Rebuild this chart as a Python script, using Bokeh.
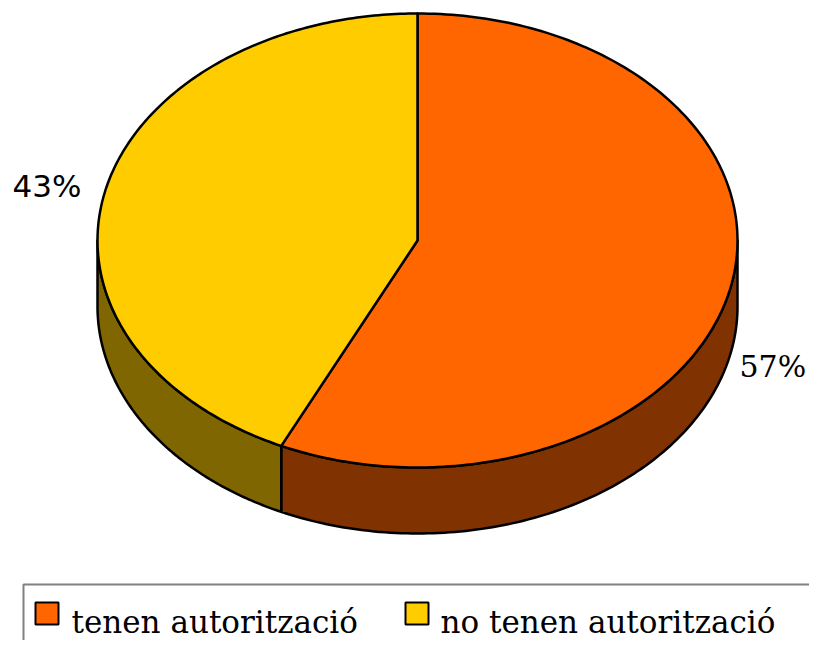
import numpy as np
from bokeh.plotting import figure
from bokeh.models import Range1d
from bokeh.core.properties import value
from bokeh.embed import file_html
from bokeh.resources import INLINE

# ---- data ----
categories = ["tenen autorització", "no tenen autorització"]
values = [57, 43]
top_colors = ["#FF6600", "#FFCC00"]
side_colors = ["#803300", "#806600"]
pct_labels = ["57%", "43%"]

# ---- layout (pixel coordinates of the picture) ----
W, H = 809, 640
cx, cy, rx, ry, depth = 417.0, 240.0, 320.0, 227.0, 66.0

p = figure(width=W, height=H, output_backend="svg", toolbar_location=None,
           x_range=Range1d(0, W), y_range=Range1d(H, 0),
           min_border=0)
p.axis.visible = False
p.grid.visible = False
p.outline_line_color = None
p.background_fill_color = "white"


def pt(theta_deg, dy=0.0):
    t = np.radians(theta_deg)
    return cx + rx * np.sin(t), cy - ry * np.cos(t) + dy


total = float(sum(values))
bounds = np.concatenate([[0.0], np.cumsum(values) / total * 360.0])

# sides (front half only: 90..270 deg clockwise from top)
for i in range(len(values)):
    a0, a1 = max(bounds[i], 90.0), min(bounds[i + 1], 270.0)
    if a1 <= a0:
        continue
    th = np.linspace(a0, a1, 120)
    xt, yt = pt(th)
    xb, yb = pt(th[::-1], depth)
    xs = np.concatenate([xt, xb])
    ys = np.concatenate([yt, yb])
    p.patch(xs, ys, fill_color=side_colors[i], line_color="black",
            line_width=2.5, line_join="round")

# tops
for i in range(len(values)):
    th = np.linspace(bounds[i], bounds[i + 1], 200)
    xa, ya = pt(th)
    xs = np.concatenate([[cx], xa])
    ys = np.concatenate([[cy], ya])
    p.patch(xs, ys, fill_color=top_colors[i], line_color="black",
            line_width=2.5, line_join="round")

# percentage labels
p.text(x=[739], y=[366], text=[pct_labels[0]], text_font=value("DejaVu Serif"),
       text_font_size="30px", text_color="black", text_baseline="alphabetic")
p.text(x=[12], y=[185], text=[pct_labels[1]], text_font=value("DejaVu Sans"),
       text_font_size="31px", text_color="black", text_baseline="alphabetic")

# legend box
p.quad(left=[23], right=[900], top=[584], bottom=[800], fill_color=None,
       line_color="#808080", line_width=2)
sw_x = [35, 405]
tx_x = [71, 440]
for i in range(len(categories)):
    p.quad(left=[sw_x[i]], right=[sw_x[i] + 23], top=[602], bottom=[624],
           fill_color=top_colors[i], line_color="black", line_width=2)
    p.text(x=[tx_x[i]], y=[621], text=[categories[i]],
           text_font=value("DejaVu Serif"), text_font_size="31px",
           text_color="black", text_baseline="alphabetic")

open("out.html", "w").write(file_html(p, INLINE))
